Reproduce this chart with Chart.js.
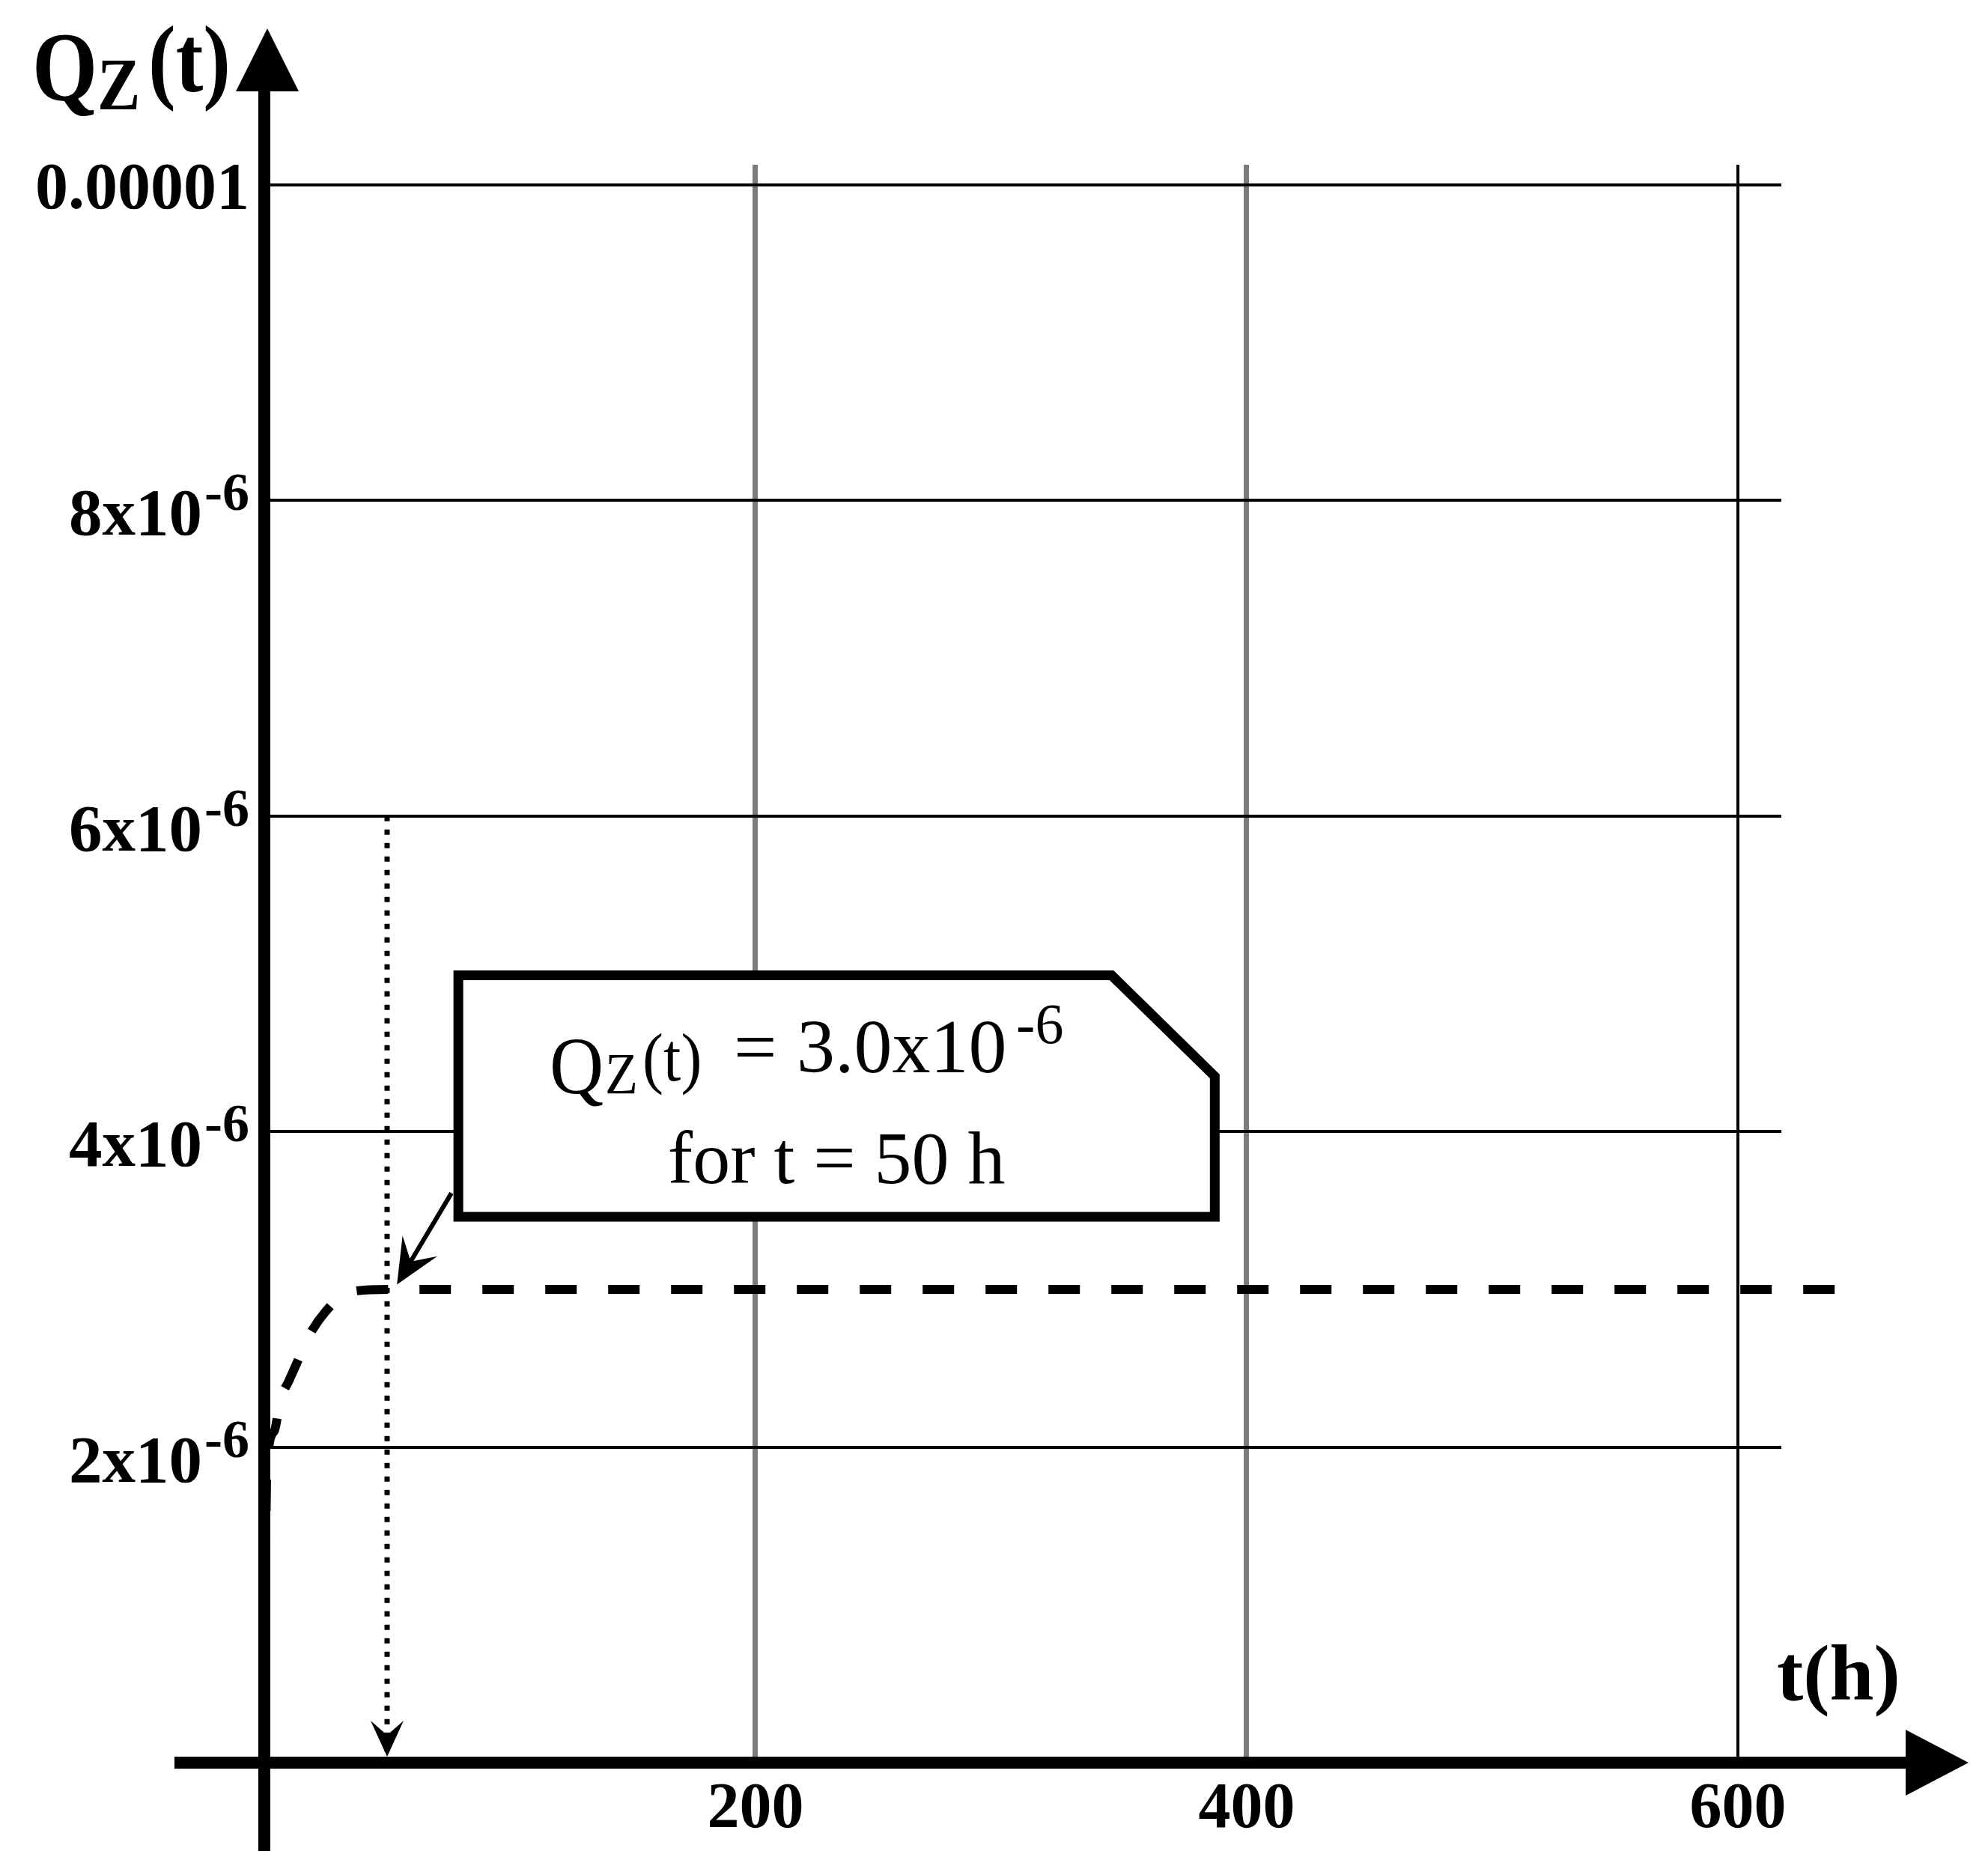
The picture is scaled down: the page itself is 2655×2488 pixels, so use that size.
<!DOCTYPE html>
<html>
<head>
<meta charset="utf-8">
<script src="https://cdn.jsdelivr.net/npm/chart.js@4.4.1/dist/chart.umd.min.js"></script>
<style>
  html, body { margin: 0; padding: 0; background: #fff; }
  #wrap { width: 2655px; height: 2488px; position: relative; }
</style>
</head>
<body>
<div id="wrap"><canvas id="myChart"></canvas></div>
<script>
// values
var curveT = [0, 1, 4, 6.5, 10, 14, 18, 25, 34, 50, 644];
var curveQ = [0, 1.85e-6, 2.1e-6, 2.3e-6, 2.42e-6, 2.56e-6, 2.7e-6, 2.86e-6, 2.98e-6, 3.0e-6, 3.0e-6];
var markT = [50, 50];
var markQ = [6e-6, 0];

var xTicks = [200, 400, 600];
var xTickLabels = ['200', '400', '600'];
var yTicks = [2e-6, 4e-6, 6e-6, 8e-6, 1e-5];
var yTickMain = ['2x10', '4x10', '6x10', '8x10', '0.00001'];
var yTickSup = ['-6', '-6', '-6', '-6', ''];

var xTitle = 't(h)';
var noteLine2 = 'for t = 50 h';

// callout box in data units (t, Q)
var box = { left: 79, right: 387, top: 4.99e-6, bottom: 3.46e-6, cutT: 345, cutQ: 4.35e-6 };
var pointerFrom = { t: 76.2, q: 3.61e-6 };
var pointerTo = { t: 54, q: 3.03e-6 };

var SERIF = '"Liberation Serif", "Times New Roman", serif';

function arrowHead(ctx, tx, ty, dx, dy, len, half, notch) {
  var px = -dy, py = dx;
  var bx = tx - dx * len, by = ty - dy * len;
  ctx.beginPath();
  ctx.moveTo(tx, ty);
  ctx.lineTo(bx + px * half, by + py * half);
  ctx.lineTo(tx - dx * len * notch, ty - dy * len * notch);
  ctx.lineTo(bx - px * half, by - py * half);
  ctx.closePath();
  ctx.fill();
}

// text stretched a little in height, like the scanned figure
function tallText(ctx, str, x, y, sy) {
  ctx.save();
  ctx.translate(x, y);
  ctx.scale(1, sy);
  ctx.fillText(str, 0, 0);
  ctx.restore();
}

var decorations = {
  id: 'decorations',
  afterDatasetsDraw: function(chart) {
    var ctx = chart.ctx;
    var xs = chart.scales.x, ys = chart.scales.y;
    var ox = xs.getPixelForValue(0), oy = ys.getPixelForValue(0);
    ctx.save();
    ctx.fillStyle = '#000';
    ctx.strokeStyle = '#000';

    // thick axes with arrows
    ctx.lineWidth = 16;
    ctx.lineCap = 'butt';
    ctx.beginPath();
    ctx.moveTo(ox - 120, oy);
    ctx.lineTo(2560, oy);
    ctx.stroke();
    ctx.beginPath();
    ctx.moveTo(ox, 2472);
    ctx.lineTo(ox, 110);
    ctx.stroke();
    ctx.beginPath();
    ctx.moveTo(2629, oy);
    ctx.lineTo(2545, oy - 44);
    ctx.lineTo(2545, oy + 44);
    ctx.closePath();
    ctx.fill();
    ctx.beginPath();
    ctx.moveTo(ox + 4, 38);
    ctx.lineTo(ox - 38, 122);
    ctx.lineTo(ox + 46, 122);
    ctx.closePath();
    ctx.fill();

    // arrow head of the dotted marker line
    arrowHead(ctx, xs.getPixelForValue(markT[1]), oy - 8, 0, 1, 48, 22, 0.6);

    // callout box
    var L = xs.getPixelForValue(box.left), R = xs.getPixelForValue(box.right);
    var T = ys.getPixelForValue(box.top), B = ys.getPixelForValue(box.bottom);
    var cx = xs.getPixelForValue(box.cutT), cy = ys.getPixelForValue(box.cutQ);
    ctx.beginPath();
    ctx.moveTo(L, T);
    ctx.lineTo(cx, T);
    ctx.lineTo(R, cy);
    ctx.lineTo(R, B);
    ctx.lineTo(L, B);
    ctx.closePath();
    ctx.fillStyle = '#fff';
    ctx.fill();
    ctx.lineWidth = 13;
    ctx.lineJoin = 'miter';
    ctx.stroke();
    ctx.fillStyle = '#000';

    // pointer from box to the curve
    var fx = xs.getPixelForValue(pointerFrom.t), fy = ys.getPixelForValue(pointerFrom.q);
    var tx = xs.getPixelForValue(pointerTo.t), ty = ys.getPixelForValue(pointerTo.q);
    var d = Math.hypot(tx - fx, ty - fy);
    var ux = (tx - fx) / d, uy = (ty - fy) / d;
    ctx.lineWidth = 6;
    ctx.beginPath();
    ctx.moveTo(fx, fy);
    ctx.lineTo(tx - ux * 30, ty - uy * 30);
    ctx.stroke();
    arrowHead(ctx, tx, ty, ux, uy, 60, 27, 0.6);

    // callout text
    ctx.textAlign = 'left';
    ctx.textBaseline = 'alphabetic';
    ctx.font = '100px ' + SERIF;
    tallText(ctx, 'Q', L + 122, T + 157, 1.08);
    ctx.font = '72px ' + SERIF;
    tallText(ctx, 'Z', L + 196, T + 157, 1.08);
    ctx.font = '84px ' + SERIF;
    tallText(ctx, '(t)', L + 246, T + 140, 1.08);
    ctx.font = '102px ' + SERIF;
    ctx.fillText('=', L + 368, T + 129);
    ctx.fillText('3.0x10', L + 452, T + 129);
    ctx.font = '76px ' + SERIF;
    ctx.fillText('-6', L + 745, T + 90);
    ctx.font = '100px ' + SERIF;
    ctx.textAlign = 'center';
    ctx.fillText(noteLine2, (L + R) / 2, T + 277);

    // tick labels
    ctx.font = 'bold 86px ' + SERIF;
    xTicks.forEach(function(v, i) {
      ctx.fillText(xTickLabels[i], xs.getPixelForValue(v), oy + 86);
    });
    ctx.textAlign = 'left';
    yTicks.forEach(function(v, i) {
      var gy = ys.getPixelForValue(v);
      var right = 333;
      if (yTickSup[i]) {
        ctx.font = 'bold 72px ' + SERIF;
        var sw = ctx.measureText(yTickSup[i]).width;
        ctx.fillText(yTickSup[i], right - sw, gy + 13);
        ctx.font = 'bold 89px ' + SERIF;
        var mw = ctx.measureText(yTickMain[i]).width;
        ctx.fillText(yTickMain[i], right - sw - 3 - mw, gy + 46);
      } else {
        ctx.font = 'bold 88px ' + SERIF;
        var w = ctx.measureText(yTickMain[i]).width;
        ctx.fillText(yTickMain[i], right - w, gy + 31);
      }
    });

    // axis titles
    ctx.font = 'bold 112px ' + SERIF;
    tallText(ctx, 'Q', 43, 134, 1.18);
    ctx.font = 'bold 86px ' + SERIF;
    tallText(ctx, 'Z', 130, 146, 1.15);
    ctx.font = 'bold 110px ' + SERIF;
    tallText(ctx, '(t)', 198, 122, 1.15);
    ctx.font = 'bold 106px ' + SERIF;
    ctx.fillText(xTitle, 2373, 2270);
    ctx.restore();
  }
};

var ctx = document.getElementById('myChart');
var myChart = new Chart(ctx, {
  type: 'line',
  data: {
    datasets: [{
      label: 'Qz(t)',
      data: curveT.map(function(t, i) { return { x: t, y: curveQ[i] }; }),
      borderColor: '#000',
      borderWidth: 12,
      borderDash: [42, 42],
      borderCapStyle: 'butt',
      cubicInterpolationMode: 'monotone',
      pointRadius: 0,
      fill: false,
      clip: false
    }, {
      label: 't = 50 h',
      data: markT.map(function(t, i) { return { x: t, y: markQ[i] }; }),
      borderColor: '#000',
      borderWidth: 7,
      borderDash: [7, 11],
      borderCapStyle: 'butt',
      pointRadius: 0,
      fill: false,
      clip: false
    }]
  },
  options: {
    responsive: true,
    maintainAspectRatio: false,
    animation: false,
    layout: { padding: { left: 353, top: 220, right: 276, bottom: 134 } },
    plugins: { legend: { display: false }, tooltip: { enabled: false } },
    scales: {
      x: {
        type: 'linear',
        min: 0,
        max: 617.7,
        afterBuildTicks: function(axis) { axis.ticks = xTicks.map(function(v) { return { value: v }; }); },
        ticks: { display: false },
        border: { display: false },
        grid: {
          drawTicks: false,
          color: function(c) { return c.tick && c.tick.value === 600 ? '#000' : '#7a7a7a'; },
          lineWidth: function(c) { return c.tick && c.tick.value === 600 ? 4 : 7; }
        }
      },
      y: {
        type: 'linear',
        min: 0,
        max: 1.0128e-5,
        afterBuildTicks: function(axis) { axis.ticks = yTicks.map(function(v) { return { value: v }; }); },
        ticks: { display: false },
        border: { display: false },
        grid: { drawTicks: false, color: '#000', lineWidth: 4 }
      }
    }
  },
  plugins: [decorations]
});
</script>
</body>
</html>
